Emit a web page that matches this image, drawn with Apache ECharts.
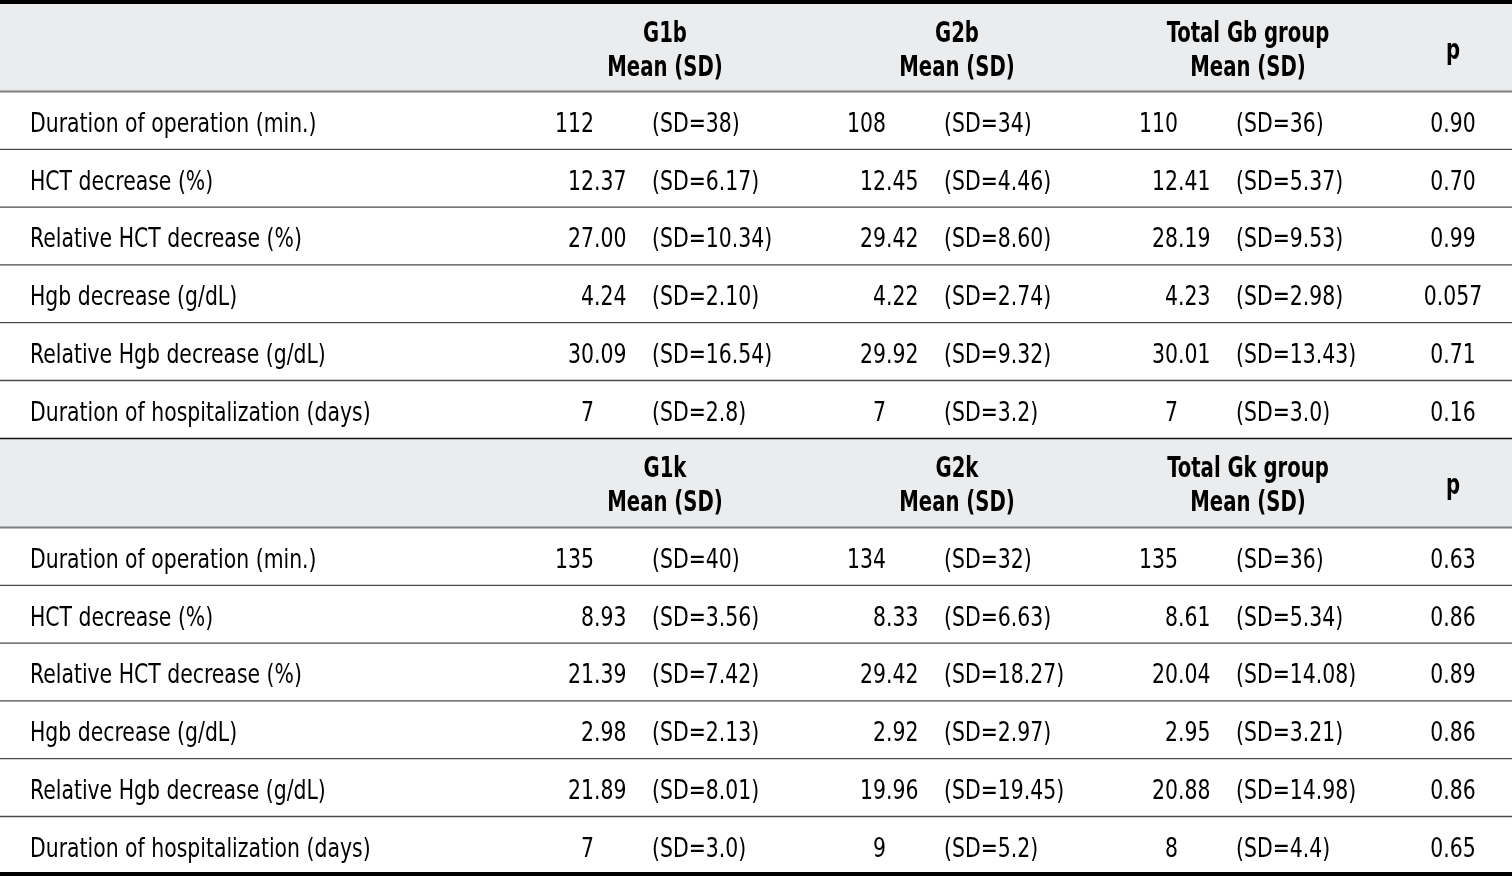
<!DOCTYPE html>
<html><head><meta charset="utf-8">
<script src="https://cdn.jsdelivr.net/npm/echarts@6/dist/echarts.min.js"></script>
<style>html,body{margin:0;padding:0;background:#fff;overflow:hidden}#c{width:1512px;height:876px}</style>
</head><body><div id="c"></div>
<script>
// ---- data ----
const rowLabels = [
  'Duration of operation (min.)',
  'HCT decrease (%)',
  'Relative HCT decrease (%)',
  'Hgb decrease (g/dL)',
  'Relative Hgb decrease (g/dL)',
  'Duration of hospitalization (days)'
];
const headerB = ['G1b', 'G2b', 'Total Gb group'];
const headerK = ['G1k', 'G2k', 'Total Gk group'];
const subHeader = 'Mean (SD)';
const pHeader = 'p';

const g1bMean = ['112', '12.37', '27.00', '4.24', '30.09', '7'];
const g1bSD   = ['38', '6.17', '10.34', '2.10', '16.54', '2.8'];
const g2bMean = ['108', '12.45', '29.42', '4.22', '29.92', '7'];
const g2bSD   = ['34', '4.46', '8.60', '2.74', '9.32', '3.2'];
const gbMean  = ['110', '12.41', '28.19', '4.23', '30.01', '7'];
const gbSD    = ['36', '5.37', '9.53', '2.98', '13.43', '3.0'];
const pB      = ['0.90', '0.70', '0.99', '0.057', '0.71', '0.16'];

const g1kMean = ['135', '8.93', '21.39', '2.98', '21.89', '7'];
const g1kSD   = ['40', '3.56', '7.42', '2.13', '8.01', '3.0'];
const g2kMean = ['134', '8.33', '29.42', '2.92', '19.96', '9'];
const g2kSD   = ['32', '6.63', '18.27', '2.97', '19.45', '5.2'];
const gkMean  = ['135', '8.61', '20.04', '2.95', '20.88', '8'];
const gkSD    = ['36', '5.34', '14.08', '3.21', '14.98', '4.4'];
const pK      = ['0.63', '0.86', '0.89', '0.86', '0.86', '0.65'];

const blocks = [
  { head: headerB, means: [g1bMean, g2bMean, gbMean], sds: [g1bSD, g2bSD, gbSD], p: pB },
  { head: headerK, means: [g1kMean, g2kMean, gkMean], sds: [g1kSD, g2kSD, gkSD], p: pK }
];

// ---- layout (style, not data) ----
const W = 1512, H = 876;
const LABEL_X = 30;
const MEAN_X = [594, 886, 1178];
const SD_X = [652, 944, 1236];
const HEAD_X = [665, 957, 1248];
const P_X = 1453;
const ROW_H = 57.8;
const BLOCK_GEOM = [{ top: 4, bottom: 91.5 }, { top: 438.8, bottom: 527.5 }];
const FONT_FAMILY = "'Liberation Sans Narrow','DejaVu Sans Condensed','Arial Narrow',sans-serif";
const FS = 27, FS_BOLD = 28;
const SX = 0.84, SX_BOLD = 0.78;
const TEXT = '#000';

function renderItem(params, api) {
  const children = [];
  const P = (x, y) => api.coord([x, y]);
  const txt = (x, y, s, align, bold) => {
    const p = P(x, y);
    children.push({
      type: 'text', x: p[0], y: p[1], scaleX: bold ? SX_BOLD : SX,
      style: {
        text: s, fill: TEXT, align: align, verticalAlign: 'middle',
        fontFamily: FONT_FAMILY, fontSize: bold ? FS_BOLD : FS, fontWeight: bold ? 'bold' : 'normal'
      }
    });
  };
  const line = (y, color, w) => {
    const a = P(0, y), b = P(W, y);
    children.push({ type: 'line', shape: { x1: a[0], y1: a[1], x2: b[0], y2: b[1] }, style: { stroke: color, lineWidth: w } });
  };
  blocks.forEach((blk, bi) => {
    const g = BLOCK_GEOM[bi];
    const a = P(0, g.top), b = P(W, g.bottom);
    children.push({ type: 'rect', shape: { x: a[0], y: a[1], width: b[0] - a[0], height: b[1] - a[1] }, style: { fill: '#ebecee' } });
    const mid = (g.top + g.bottom) / 2;
    blk.head.forEach((h, i) => {
      txt(HEAD_X[i], mid - 13, h, 'center', true);
      txt(HEAD_X[i], mid + 20.5, subHeader, 'center', true);
    });
    txt(P_X, mid + 4, pHeader, 'center', true);
    rowLabels.forEach((lab, r) => {
      const cy = g.bottom + ROW_H * (r + 0.5) + 4.3;
      txt(LABEL_X, cy, lab, 'left', false);
      blk.means.forEach((arr, ci) => {
        const v = arr[r];
        const k = v.indexOf('.');
        if (k < 0) {
          txt(MEAN_X[ci], cy, v, 'right', false);
        } else {
          txt(MEAN_X[ci], cy, v.slice(0, k), 'right', false);
          txt(MEAN_X[ci], cy, v.slice(k), 'left', false);
        }
        txt(SD_X[ci], cy, '(SD=' + blk.sds[ci][r] + ')', 'left', false);
      });
      txt(P_X, cy, blk.p[r], 'center', false);
    });
    line(g.bottom, '#7f7f7f', 2);
    for (let r = 1; r < rowLabels.length; r++) line(g.bottom + ROW_H * r, '#4a4a4a', 1.3);
  });
  line(BLOCK_GEOM[1].top - 0.3, '#111', 1.5);
  line(2, '#000', 4);
  line(874, '#000', 4);
  return { type: 'group', children: children };
}

const chart = echarts.init(document.getElementById('c'), null, { renderer: 'canvas' });
chart.setOption({
  animation: false,
  grid: { left: 0, right: 0, top: 0, bottom: 0 },
  xAxis: { type: 'value', min: 0, max: W, show: false },
  yAxis: { type: 'value', min: 0, max: H, inverse: true, show: false },
  series: [{ type: 'custom', silent: true, renderItem: renderItem, data: [[0, 0]], clip: false }]
});
</script>
</body></html>
